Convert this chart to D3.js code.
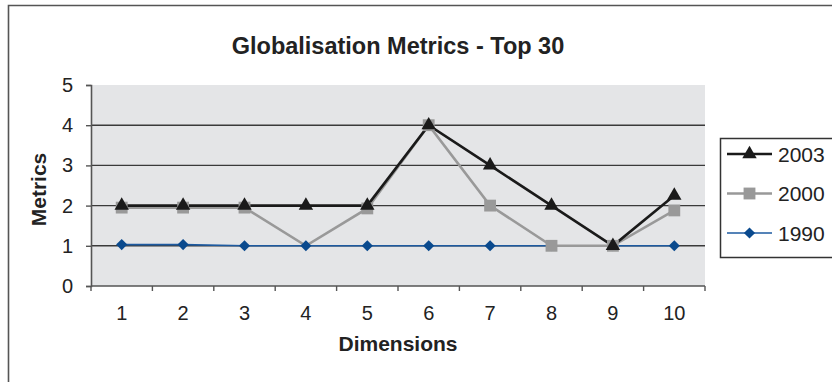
<!DOCTYPE html>
<html>
<head>
<meta charset="utf-8">
<script src="https://cdn.jsdelivr.net/npm/d3@7"></script>
<style>
  html, body { margin: 0; padding: 0; background: #fff; }
  svg { display: block; font-family: "Liberation Sans", Arial, sans-serif; }
</style>
</head>
<body>
<svg id="chart" width="832" height="382"></svg>
<script>
// Dimension categories along the x axis
const dimensions = [1, 2, 3, 4, 5, 6, 7, 8, 9, 10];
// Metric scores per year
const values2003 = [2, 2, 2, 2, 2, 4, 3, 2, 1, 2.25];
const values2000 = [1.95, 1.95, 1.95, 1, 1.93, 4, 2, 1, 1, 1.88];
const values1990 = [1.03, 1.03, 1, 1, 1, 1, 1, 1, 1, 1];
const yTicks = [0, 1, 2, 3, 4, 5];
// Dimensions whose 2000 point is shown without a marker
const unmarked2000 = [4];

const seriesList = [
  { name: "2003", values: values2003, skip: [], color: "#1a1a1a", width: 2.6, marker: d3.symbolTriangle, msize: 90, rot: 0, mcolor: "#1a1a1a" },
  { name: "2000", values: values2000, skip: unmarked2000, color: "#999999", width: 2.6, marker: d3.symbolSquare, msize: 140, rot: 0, mcolor: "#999999" },
  { name: "1990", values: values1990, skip: [], color: "#1d5aa0", width: 1.6, marker: d3.symbolSquare, msize: 62, rot: 45, mcolor: "#0a4a8e" }
];

const svg = d3.select("#chart");
const plot = { left: 91, right: 705, top: 85, bottom: 286 };

// Outer chart frame
svg.append("path")
  .attr("d", "M8.5,382 L8.5,5.5 L832,5.5")
  .attr("fill", "none").attr("stroke", "#555").attr("stroke-width", 1.6);

const x = d3.scaleBand().domain(dimensions).range([plot.left, plot.right]);
const y = d3.scaleLinear().domain([0, 5]).range([plot.bottom, plot.top]);

// Plot background
svg.append("rect")
  .attr("x", plot.left).attr("y", plot.top)
  .attr("width", plot.right - plot.left).attr("height", plot.bottom - plot.top)
  .attr("fill", "#e4e5e7");

// Horizontal gridlines
svg.append("g").selectAll("line")
  .data(yTicks.filter(t => t > 0 && t < 5))
  .join("line")
  .attr("x1", plot.left).attr("x2", plot.right)
  .attr("y1", d => y(d)).attr("y2", d => y(d))
  .attr("stroke", "#3a3a3a").attr("stroke-width", 1.4);

// Y axis
const yAxis = svg.append("g")
  .attr("transform", `translate(${plot.left},0)`)
  .call(d3.axisLeft(y).tickValues(yTicks).tickSize(5).tickPadding(13).tickFormat(d3.format("d")));
yAxis.select(".domain").attr("stroke", "#555").attr("stroke-width", 1.6);
yAxis.selectAll(".tick line").attr("stroke", "#555").attr("stroke-width", 1.4);
yAxis.selectAll(".tick text").attr("font-size", 20).attr("fill", "#222")
  .attr("font-family", "Liberation Sans, Arial, sans-serif");

// X axis with ticks at band boundaries
const xAxisG = svg.append("g").attr("transform", `translate(0,${plot.bottom})`);
xAxisG.append("line")
  .attr("x1", plot.left).attr("x2", plot.right).attr("y1", 0).attr("y2", 0)
  .attr("stroke", "#555").attr("stroke-width", 1.6);
const bounds = dimensions.map(d => x(d)).concat([x(dimensions[dimensions.length - 1]) + x.bandwidth()]);
xAxisG.selectAll("line.tk").data(bounds).join("line").attr("class", "tk")
  .attr("x1", d => d).attr("x2", d => d).attr("y1", 0).attr("y2", 5)
  .attr("stroke", "#555").attr("stroke-width", 1.4);
xAxisG.selectAll("text").data(dimensions).join("text")
  .attr("x", d => x(d) + x.bandwidth() / 2).attr("y", 34)
  .attr("text-anchor", "middle").attr("font-size", 20).attr("fill", "#222")
  .text(d => d);

// Series lines first, then markers; the oldest year goes first so 2003 sits on top
const cxOf = i => x(dimensions[i]) + x.bandwidth() / 2;
const line = d3.line().x((d, i) => cxOf(i)).y(d => y(d));
const drawOrder = seriesList.slice().reverse();
const linesG = svg.append("g");
const markersG = svg.append("g");
drawOrder.forEach(s => {
  linesG.append("path").datum(s.values).attr("d", line)
    .attr("fill", "none").attr("stroke", s.color).attr("stroke-width", s.width)
    .attr("stroke-linejoin", "miter");
  const pts = s.values.map((v, i) => ({ v, i })).filter(p => !s.skip.includes(dimensions[p.i]));
  markersG.append("g").selectAll("path").data(pts).join("path")
    .attr("d", d3.symbol().type(s.marker).size(s.msize))
    .attr("transform", p => `translate(${cxOf(p.i)},${y(p.v)}) rotate(${s.rot})`)
    .attr("fill", s.mcolor);
});

// Title and axis titles
const midX = (plot.left + plot.right) / 2;
svg.append("text").attr("x", midX).attr("y", 54).attr("text-anchor", "middle")
  .attr("font-size", 23.5).attr("font-weight", "bold").attr("fill", "#222")
  .text("Globalisation Metrics - Top 30");
svg.append("text").attr("x", midX).attr("y", 351).attr("text-anchor", "middle")
  .attr("font-size", 21).attr("font-weight", "bold").attr("fill", "#222")
  .text("Dimensions");
svg.append("text").attr("transform", `translate(46,${(plot.top + plot.bottom) / 2 + 4}) rotate(-90)`)
  .attr("text-anchor", "middle")
  .attr("font-size", 21).attr("font-weight", "bold").attr("fill", "#222")
  .text("Metrics");

// Legend
const legend = svg.append("g").attr("transform", "translate(720,138)");
legend.append("rect").attr("x", 0.5).attr("y", 0.5).attr("width", 120).attr("height", 119)
  .attr("fill", "#fff").attr("stroke", "#333").attr("stroke-width", 1.5);
seriesList.forEach((s, i) => {
  const ly = 16 + i * 39.5;
  legend.append("line").attr("x1", 7).attr("x2", 52).attr("y1", ly).attr("y2", ly)
    .attr("stroke", s.color).attr("stroke-width", s.width);
  legend.append("path").attr("d", d3.symbol().type(s.marker).size(s.msize)())
    .attr("transform", `translate(29.5,${ly}) rotate(${s.rot})`).attr("fill", s.mcolor);
  legend.append("text").attr("x", 58).attr("y", ly + 7.5).attr("font-size", 21).attr("fill", "#222")
    .text(s.name);
});
</script>
</body>
</html>
